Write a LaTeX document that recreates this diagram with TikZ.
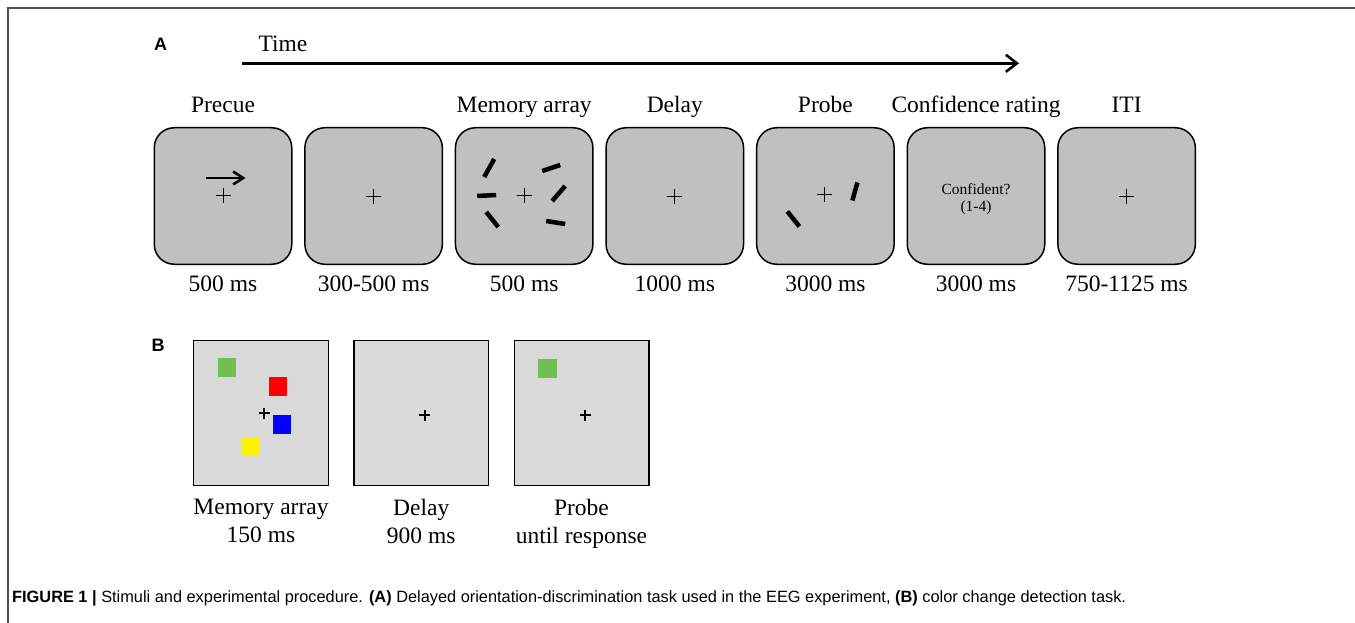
\documentclass[tikz,border=0pt]{standalone}
\usepackage{fontspec}
\setmainfont{Liberation Serif}
\newfontfamily\capfont{Liberation Sans}
\usetikzlibrary{arrows.meta,chains,positioning}

\definecolor{screenA}{HTML}{C0C0C0}
\definecolor{screenB}{HTML}{D9D9D9}
\definecolor{itemGreen}{HTML}{70BF50}
\definecolor{frameGray}{HTML}{505050}

\begin{document}
\begin{tikzpicture}[%
    x=1pt, y=-1pt,              % one unit = one pixel of the figure, y runs down
    >={Straight Barb[length=11pt, width=17pt]}, % open barbs as in the figure
    node distance=11.6pt,       % gap between the screens of one trial
    ]
% -------------------------------------------------
% Styles for screens, labels and stimuli
\tikzset{
  screen/.style={draw, on chain, line width=1.5pt, fill=screenA,
    minimum width=137.5pt, minimum height=136.5pt, rounded corners=20pt},
  plain/.style={draw, on chain, line width=1.4pt, fill=screenB,
    minimum width=134.6pt, minimum height=144.6pt},
  txt/.style={inner sep=0pt, font=\fontsize{23.5}{28}\selectfont},
  title/.style={txt, anchor=base},
  panel/.style={inner sep=0pt, anchor=base, font=\capfont\bfseries\fontsize{18}{20}\selectfont},
  bar/.style={line width=4.5pt},
  fixA/.pic={\draw[line width=0.9pt] (-7.5,0) -- (7.5,0) (0,-7.5) -- (0,7.5);},
  fixB/.pic={\draw[line width=2pt] (-5.5,0) -- (5.5,0) (0,-5.5) -- (0,5.5);},
}
\useasboundingbox (0,0) rectangle (1355,623);
\draw[frameGray, line width=1.8pt] (8,623) -- (8,8) -- (1355,8);

% -------------------------------------------------
% Panel A: orientation task
\node[panel] (lblA) at (160.5,51) {A};
\node[title] (time) at (283,51.7) {Time};
\coordinate (tStart) at (242,63.3);
\coordinate (tEnd) at (1019,63.3);
\draw[->, line width=2.6pt] (tStart) -- (tEnd);

\begin{scope}[start chain=trialA going right]
\node[screen] (precue) at (223,196) {};
\node[screen] (isi) {};
\node[screen] (memory) {};
\node[screen] (delay) {};
\node[screen] (probe) {};
\node[screen] (confid) {};
\node[screen] (iti) {};
\end{scope}

% titles above, durations below
\node[above=14pt of precue, title] (tPrecue) {Precue};
\node[above=14pt of memory, title] (tMemory) {Memory array};
\node[above=14pt of delay, title] (tDelay) {Delay};
\node[above=14pt of probe, title] (tProbe) {Probe};
\node[above=14pt of confid, title] (tConfid) {Confidence rating};
\node[above=14pt of iti, title] (tIti) {ITI};

\node[below=26pt of precue, title] (dPrecue) {500 ms};
\node[below=26pt of isi, title] (dIsi) {300-500 ms};
\node[below=26pt of memory, title] (dMemory) {500 ms};
\node[below=26pt of delay, title] (dDelay) {1000 ms};
\node[below=26pt of probe, title] (dProbe) {3000 ms};
\node[below=26pt of confid, title] (dConfid) {3000 ms};
\node[below=26pt of iti, title] (dIti) {750-1125 ms};

% screen contents
\begin{scope}[shift={(precue.center)}]
  \draw[-{Straight Barb[length=10pt, width=13pt]}, line width=2.6pt] (-17.5,-18) -- (22.5,-18);
  \pic at (0,-1) {fixA};
\end{scope}
\pic at (isi.center) {fixA};
\begin{scope}[shift={(memory.center)}]
  \draw[bar] (-40,-19) -- (-30,-37);
  \draw[bar] (18,-25) -- (36,-31);
  \draw[bar] (-47,0) -- (-28,-1);
  \draw[bar] (28,5) -- (41,-10);
  \draw[bar] (-38,16) -- (-26,31);
  \draw[bar] (22,25) -- (41,28);
  \pic at (0,-1) {fixA};
\end{scope}
\pic at (delay.center) {fixA};
\begin{scope}[shift={(probe.center)}]
  \draw[bar] (-38,15.5) -- (-26,30.5);
  \draw[bar] (32,-13.5) -- (27,4.5);
  \pic at (-1,-1.5) {fixA};
\end{scope}
\node[inner sep=0pt, align=center, font=\fontsize{15.5}{17.5}\selectfont]
  (cText) at ([yshift=-3pt]confid.center) {Confident?\\(1-4)};
\pic at (iti.center) {fixA};

% -------------------------------------------------
% Panel B: colour change detection
\node[panel] (lblB) at (158,351) {B};
\begin{scope}[start chain=trialB going right, node distance=24.25pt]
\node[plain] (bMemory) at (261,413) {};
\node[plain] (bDelay) {};
\node[plain] (bProbe) {};
\end{scope}

\node[below=12.5pt of bMemory, txt, align=center] (lMemory) {Memory array\\150 ms};
\node[below=12.5pt of bDelay, txt, align=center] (lDelay) {Delay\\900 ms};
\node[below=12.5pt of bProbe, txt, align=center] (lProbe) {Probe\\until response};

\begin{scope}[shift={(bMemory.center)}]
  \fill[itemGreen] (-43.25,-54.75) rectangle ++(18.5,18.5);
  \fill[red] (7.75,-35.75) rectangle ++(18.5,18.5);
  \fill[blue] (11.75,2.25) rectangle ++(18.5,18.5);
  \fill[yellow] (-19.25,24.25) rectangle ++(18.5,18.5);
  \pic at (3,0) {fixB};
\end{scope}
\pic at ([shift={(3.5,2)}]bDelay.center) {fixB};
\begin{scope}[shift={(bProbe.center)}]
  \fill[itemGreen] (-43.25,-53.75) rectangle ++(18.5,18.5);
  \pic at (3.5,2) {fixB};
\end{scope}

% -------------------------------------------------
% Caption
\node[anchor=base west, inner sep=0pt, font=\capfont\fontsize{16.35}{19}\selectfont]
  (caption) at (12,602) {\textbf{FIGURE 1 |} Stimuli and experimental procedure.
  \textbf{(A)} Delayed orientation-discrimination task used in the EEG experiment,
  \textbf{(B)} color change detection task.};

\end{tikzpicture}
\end{document}
